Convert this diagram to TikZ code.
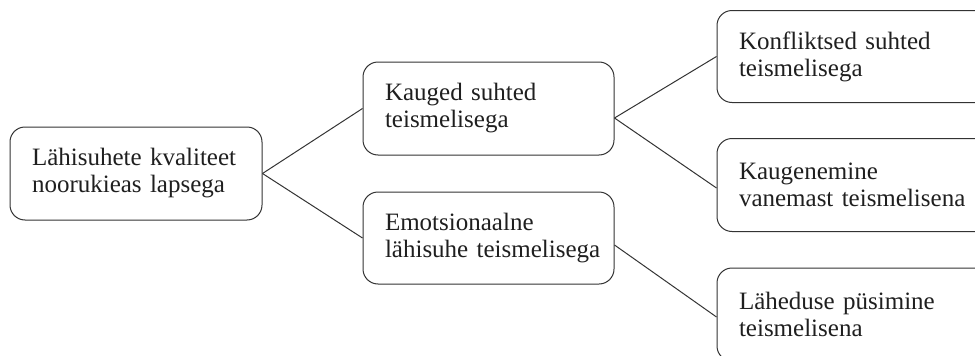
\documentclass[tikz,border=0pt]{standalone}
\usepackage{fontspec}
\setmainfont{Liberation Serif}
\begin{document}
\begin{tikzpicture}[x=1pt,y=-1pt,
  every node/.style={font=\fontsize{25}{27}\selectfont, text=black!88},
  box/.style={draw=black!80, line width=1pt, rounded corners=15pt, align=left,
    inner xsep=22pt, inner ysep=0pt, minimum height=93pt},
  link/.style={draw=black!80, line width=1pt}]
\useasboundingbox (0,0) rectangle (975,356);
\clip (0,0) rectangle (975,356);
\node[box, text width=208pt, minimum width=252pt] (root) at (136,173.5)
  {\mbox{Lähisuhete kvaliteet}\\\mbox{noorukieas lapsega}};
\node[box, text width=207pt, minimum width=251pt] (kauged) at (488.5,108.5)
  {\mbox{Kauged suhted}\\\mbox{teismelisega}};
\node[box, text width=207pt, minimum width=251pt, minimum height=92pt] (emo) at (488.5,238)
  {\mbox{Emotsionaalne}\\\mbox{lähisuhe teismelisega}};
\node[box, text width=239pt, minimum width=283pt, minimum height=92pt] (konf) at (858.5,56.5)
  {\mbox{Konfliktsed suhted}\\\mbox{teismelisega}};
\node[box, text width=239pt, minimum width=283pt] (kaug) at (858.5,185)
  {\mbox{Kaugenemine}\\\mbox{vanemast teismelisena}};
\node[box, text width=239pt, minimum width=283pt] (lah) at (858.5,314.5)
  {\mbox{Läheduse püsimine}\\\mbox{teismelisena}};
\draw[link] (root.east) -- (kauged.west);
\draw[link] (root.east) -- (emo.west);
\draw[link] ([yshift=-9.5pt]kauged.east) -- (konf.west);
\draw[link] ([yshift=-9.5pt]kauged.east) -- ([yshift=-3pt]kaug.west);
\draw[link] ([yshift=-7pt]emo.east) -- ([yshift=-2.5pt]lah.west);
\end{tikzpicture}
\end{document}
